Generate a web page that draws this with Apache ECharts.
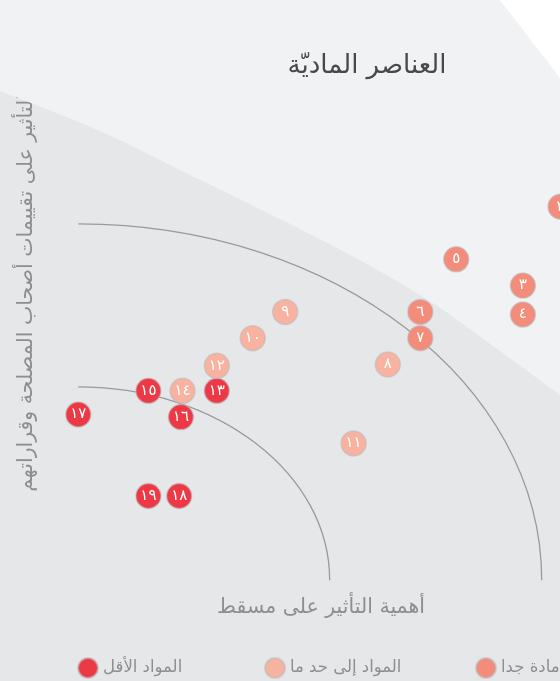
<!DOCTYPE html>
<html>
<head>
<meta charset="utf-8">
<style>
  html, body { margin: 0; padding: 0; background: #e6e7e9; }
  #chart { width: 560px; height: 681px; }
</style>
<script src="https://cdn.jsdelivr.net/npm/echarts@6/dist/echarts.min.js"></script>
</head>
<body>
<div id="chart"></div>
<script>
// ---- Data (x: importance of impact on Muscat, y: influence on stakeholders) ----
const veryMaterialName = 'المواد مادة جدا';
const veryMaterialLabels = ['٢', '٣', '٤', '٥', '٦', '٧'];
const veryMaterialX = [14.1, 13, 13, 11.05, 10, 10];
const veryMaterialY = [11, 8, 6.9, 9, 7, 6];

const moderateName = 'المواد إلى حد ما';
const moderateLabels = ['٨', '٩', '١٠', '١١', '١٢', '١٤'];
const moderateX = [9.05, 6.05, 5.1, 8.05, 4.05, 3.05];
const moderateY = [5, 7, 6, 2, 4.95, 4];

const lessName = 'المواد الأقل';
const lessLabels = ['١٣', '١٥', '١٦', '١٧', '١٨', '١٩'];
const lessX = [4.05, 2.05, 3, 0, 2.95, 2.05];
const lessY = [4, 4, 3, 3.1, 0, 0];

// threshold arcs (centre and radii in data units)
const arcCenter = [0, -3.2];
const arcRadii = [7.35, 13.55];

// background band boundaries (data units)
const bandEdgeX = [-2.29, 0.635, 3.56, 6.48, 8.53, 10.58, 12.33, 14.085];
const bandEdgeY = [15.40, 13.88, 12.02, 10.15, 8.75, 7.15, 5.51, 3.84];
const cornerEdgeX = [12.33, 14.085];
const cornerEdgeY = [18.86, 15.89];

// axis extents
const X_MIN = -2.2895, X_MAX = 14.0848;
const Y_MIN = -7.0342, Y_MAX = 18.8593;

const titleText = 'العناصر الماديّة';
const xAxisName = 'أهمية التأثير على مسقط';
const yAxisName = 'التأثير على تقييمات أصحاب المصلحة وقراراتهم';

const FONT = 'DejaVu Sans';

function pts(xs, ys, labels) {
  return xs.map((x, i) => labels ? { value: [x, ys[i]], name: labels[i] } : [x, ys[i]]);
}

function scatter(name, xs, ys, labels, color) {
  return {
    type: 'scatter',
    name: name,
    data: pts(xs, ys, labels),
    symbol: 'circle',
    symbolSize: 25,
    clip: false,
    z: 5,
    itemStyle: { color: color, borderColor: 'rgba(185,185,190,0.55)', borderWidth: 1.5, opacity: 1 },
    label: {
      show: true, position: 'inside', formatter: '{b}',
      color: '#ffffff', fontSize: 15, fontFamily: FONT
    },
    emphasis: { disabled: true }
  };
}

const chart = echarts.init(document.getElementById('chart'), null, { renderer: 'canvas' });

const legendCommon = {
  icon: 'circle', itemWidth: 20, itemHeight: 20, itemGap: 0, padding: 0,
  top: 657, selectedMode: false, orient: 'horizontal',
  textStyle: { color: '#8e8e90', fontSize: 16.5, fontFamily: FONT }
};

const option = {
  backgroundColor: '#e6e7e9',
  animation: false,
  grid: { left: 0, right: 0, top: 0, bottom: 0 },
  xAxis: { type: 'value', min: X_MIN, max: X_MAX, show: false },
  yAxis: { type: 'value', min: Y_MIN, max: Y_MAX, show: false },
  title: {
    text: titleText, left: 362, top: 48, textAlign: 'center',
    textStyle: { color: '#48484a', fontSize: 26, fontWeight: 'normal', fontFamily: FONT }
  },
  legend: [
    Object.assign({}, legendCommon, { data: [lessName], left: 77 }),
    Object.assign({}, legendCommon, { data: [moderateName], left: 264 }),
    Object.assign({}, legendCommon, { data: [veryMaterialName], left: 475, width: 600 })
  ],
  graphic: [
    {
      type: 'text', x: 321, y: 608, silent: true,
      style: { text: xAxisName, fill: '#8e8e90', font: '20.5px "DejaVu Sans"', align: 'center', verticalAlign: 'middle' }
    },
    {
      type: 'text', x: 27, y: 293, rotation: Math.PI / 2, silent: true,
      style: { text: yAxisName, fill: '#8e8e90', font: '20.5px "DejaVu Sans"', align: 'center', verticalAlign: 'middle' }
    }
  ],
  series: [
    {
      type: 'line', data: pts(bandEdgeX, bandEdgeY), smooth: 0.3, symbol: 'none', silent: true, z: 0,
      lineStyle: { width: 0 }, areaStyle: { color: '#f1f2f4', opacity: 1, origin: 'end' }
    },
    {
      type: 'line', data: pts(cornerEdgeX, cornerEdgeY), symbol: 'none', silent: true, z: 0,
      lineStyle: { width: 0 }, areaStyle: { color: '#ffffff', opacity: 1, origin: 'end' }
    },
    {
      type: 'custom', silent: true, z: 2, clip: false,
      data: arcRadii.map(r => [arcCenter[0], arcCenter[1], r]),
      renderItem: function (params, api) {
        const cx = api.value(0), cy = api.value(1), r = api.value(2);
        const c = api.coord([cx, cy]);
        const t = api.coord([cx, cy + r]);
        const e = api.coord([cx + r, cy]);
        const rx = e[0] - c[0], ry = c[1] - t[1];
        const k = 0.5523;
        return {
          type: 'bezierCurve',
          shape: { x1: t[0], y1: t[1], cpx1: c[0] + k * rx, cpy1: t[1], cpx2: e[0], cpy2: c[1] - k * ry, x2: e[0], y2: e[1] },
          style: { stroke: '#9a9a9c', lineWidth: 1.3, fill: null }
        };
      }
    },
    scatter(lessName, lessX, lessY, lessLabels, '#ec3945'),
    scatter(moderateName, moderateX, moderateY, moderateLabels, '#f7b2a0'),
    scatter(veryMaterialName, veryMaterialX, veryMaterialY, veryMaterialLabels, '#f38c7a')
  ]
};

chart.setOption(option);
</script>
</body>
</html>
